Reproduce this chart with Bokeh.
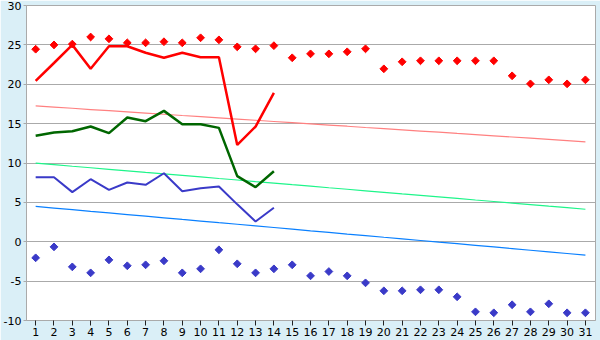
import math
from bokeh.plotting import figure
from bokeh.models import Range1d, FixedTicker
from bokeh.embed import file_html
from bokeh.resources import INLINE

days = list(range(1, 32))
day_labels = [str(d) for d in days]

# record max per day (red diamonds)
rec_max = [24.45, 25.0, 25.1, 26.0, 25.77, 25.26, 25.26, 25.4, 25.26, 25.9, 25.64,
           24.75, 24.5, 24.9, 23.36, 23.86, 23.86, 24.12, 24.5, 21.96, 22.85, 22.98,
           22.98, 22.98, 22.98, 22.98, 21.07, 20.05, 20.56, 20.05, 20.56]
# record min per day (blue diamonds)
rec_min = [-2.04, -0.65, -3.19, -3.95, -2.30, -3.05, -2.93, -2.42, -3.95, -3.44, -1.02,
           -2.80, -3.95, -3.44, -2.93, -4.33, -3.78, -4.33, -5.22, -6.23, -6.23, -6.1,
           -6.1, -6.99, -8.9, -9.02, -8.0, -8.9, -7.88, -9.02, -9.02]

obs_days = list(range(1, 15))
obs_max = [20.43, 22.7, 25.0, 21.96, 24.83, 24.83, 24.0, 23.36, 24.0, 23.44, 23.44, 12.3, 14.63, 18.9]
obs_mean = [13.45, 13.87, 14.04, 14.63, 13.79, 15.78, 15.31, 16.62, 14.93, 14.93, 14.46, 8.33, 6.93, 8.96]
obs_min = [8.2, 8.2, 6.3, 7.94, 6.59, 7.52, 7.23, 8.7, 6.42, 6.8, 7.02, 4.75, 2.57, 4.31]

# normals (thin lines)
norm_max = [17.25, 17.10, 16.95, 16.79, 16.64, 16.49, 16.34, 16.19, 16.03, 15.88, 15.73,
            15.58, 15.43, 15.27, 15.12, 14.97, 14.82, 14.67, 14.51, 14.36, 14.21, 14.06,
            13.91, 13.75, 13.60, 13.45, 13.30, 13.15, 12.99, 12.84, 12.69]
norm_mean = [9.98, 9.79, 9.59, 9.40, 9.20, 9.01, 8.81, 8.62, 8.42, 8.23, 8.03, 7.84,
             7.64, 7.45, 7.25, 7.06, 6.86, 6.67, 6.47, 6.28, 6.08, 5.89, 5.69, 5.50,
             5.30, 5.11, 4.91, 4.72, 4.52, 4.33, 4.13]
norm_min = [4.48, 4.27, 4.07, 3.86, 3.66, 3.45, 3.25, 3.04, 2.83, 2.63, 2.42, 2.22,
            2.01, 1.81, 1.60, 1.39, 1.19, 0.98, 0.78, 0.57, 0.37, 0.16, -0.05, -0.25,
            -0.46, -0.66, -0.87, -1.08, -1.28, -1.49, -1.70]

y_ticks = [-10, -5, 0, 5, 10, 15, 20, 25, 30]
y_labels = ["-10", "-5", "0", "5", "10", "15", "20", "25", "30"]

p = figure(width=600, height=340, output_backend="svg", toolbar_location=None,
           x_range=Range1d(0.5, 31.55), y_range=Range1d(-10, 30),
           min_border_left=26, min_border_right=5, min_border_top=5, min_border_bottom=20)
p.background_fill_color = "white"
p.border_fill_color = "#DAEFF7"
p.outline_line_color = "#AAAAAA"

p.line(days, norm_max, color="#FF8080", line_width=1.2)
p.line(days, norm_mean, color="#1EF58A", line_width=1.2)
p.line(days, norm_min, color="#0A80FF", line_width=1.2)

p.line(obs_days, obs_max, color="#FF0000", line_width=2.5)
p.line(obs_days, obs_mean, color="#006600", line_width=2.5)
p.line(obs_days, obs_min, color="#3A3AC8", line_width=2)

p.scatter(days, rec_max, marker="square", angle=math.pi / 4, size=5.5, color="#FF0000")
p.scatter(days, rec_min, marker="square", angle=math.pi / 4, size=5.5, color="#3A3AC8")

p.xgrid.visible = False
p.ygrid.grid_line_color = "#AAAAAA"
p.ygrid.ticker = FixedTicker(ticks=y_ticks)

p.yaxis.ticker = FixedTicker(ticks=y_ticks)
p.yaxis.major_label_overrides = {t: l for t, l in zip(y_ticks, y_labels)}
p.xaxis.ticker = FixedTicker(ticks=days)
p.xaxis.major_label_overrides = {d: l for d, l in zip(days, day_labels)}

for ax in (p.xaxis, p.yaxis):
    ax.axis_line_color = "#AAAAAA"
    ax.major_label_text_font = "DejaVu Sans"
    ax.major_label_text_font_size = "11px"
    ax.major_label_text_color = "black"
    ax.minor_tick_line_color = None
    ax.major_label_standoff = 2

p.xaxis.major_tick_line_color = "#222222"
p.xaxis.major_tick_in = 0
p.xaxis.major_tick_out = 5
p.yaxis.major_tick_line_color = "#AAAAAA"
p.yaxis.major_tick_in = 0
p.yaxis.major_tick_out = 3

open("out.html", "w").write(file_html(p, INLINE))
